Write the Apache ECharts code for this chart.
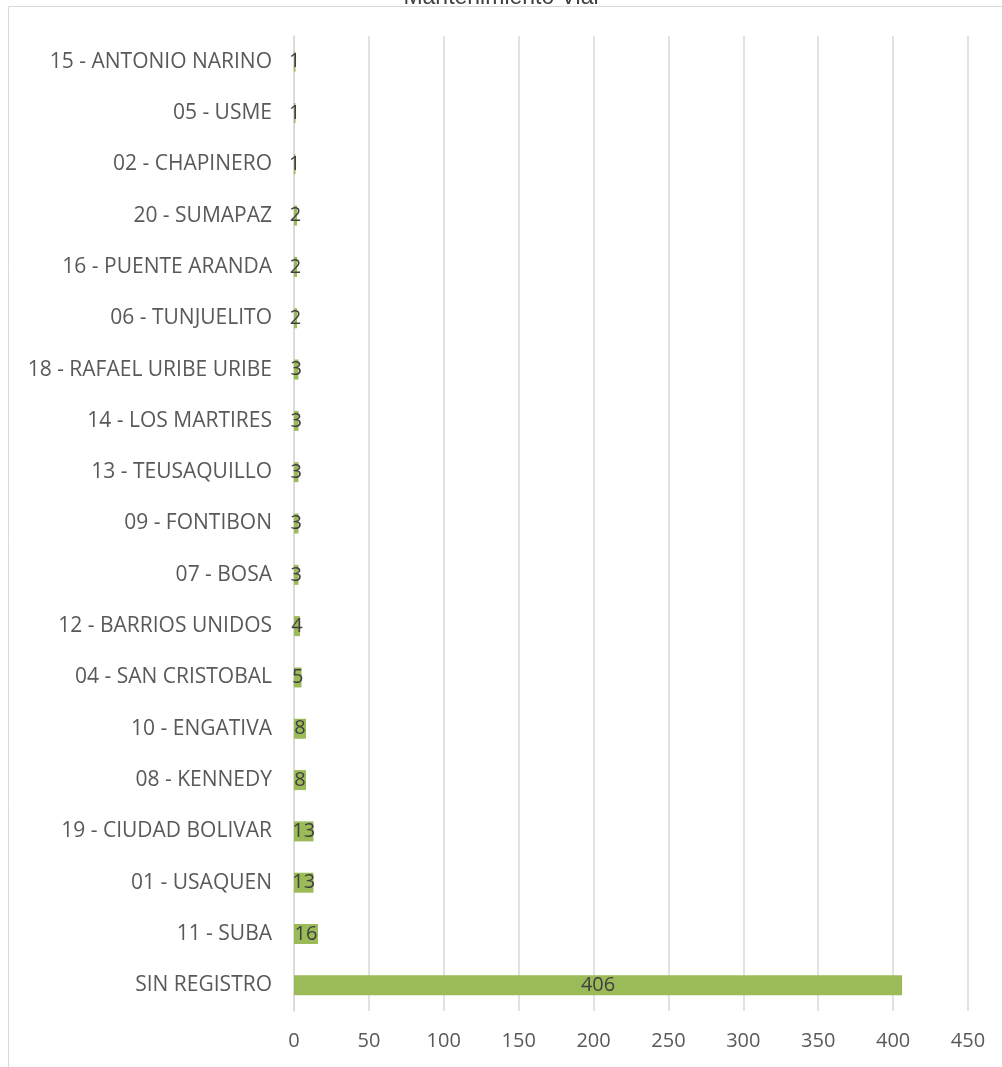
<!DOCTYPE html>
<html><head><meta charset="utf-8">
<script src="https://cdn.jsdelivr.net/npm/echarts@6/dist/echarts.min.js"></script>
<style>html,body{margin:0;padding:0;background:#fff}#c{width:1002px;height:1067px}</style>
</head><body><div id="c"></div>
<script>
const categories = ["SIN REGISTRO","11 - SUBA","01 - USAQUEN","19 - CIUDAD BOLIVAR","08 - KENNEDY","10 - ENGATIVA","04 - SAN CRISTOBAL","12 - BARRIOS UNIDOS","07 - BOSA","09 - FONTIBON","13 - TEUSAQUILLO","14 - LOS MARTIRES","18 - RAFAEL URIBE URIBE","06 - TUNJUELITO","16 - PUENTE ARANDA","20 - SUMAPAZ","02 - CHAPINERO","05 - USME","15 - ANTONIO NARINO"];
const values = [406,16,13,13,8,8,5,4,3,3,3,3,3,2,2,2,1,1,1];
const chartTitle = "Mantenimiento Vial";
const chart = echarts.init(document.getElementById('c'));
const font = "'Open Sans', 'Noto Sans', sans-serif";
chart.setOption({
  backgroundColor:'#fff',
  animation:false,
  title:{text:chartTitle,left:'center',top:-19,textStyle:{fontFamily:"'Liberation Sans', Arial, sans-serif",fontSize:23,fontWeight:'normal',color:'#404040'}},
  graphic:[{type:'rect',shape:{x:8.5,y:6.5,width:1100,height:1200},style:{fill:null,stroke:'#d9d9d9',lineWidth:1},z:-1}],
  grid:{left:294,right:34,top:36,bottom:56,containLabel:false},
  xAxis:{type:'value',min:0,max:450,interval:50,
    axisLine:{show:false},axisTick:{show:false},
    splitLine:{show:true,lineStyle:{color:'#d9d9d9',width:1.5}},
    axisLabel:{color:'#595959',fontFamily:font,fontSize:20,margin:20}},
  yAxis:{type:'category',data:categories,
    axisLine:{show:true,lineStyle:{color:'#d9d9d9',width:1.5}},axisTick:{show:false},
    axisLabel:{color:'#595959',fontFamily:font,fontSize:21,margin:22}},
  series:[{type:'bar',data:values,barWidth:20,
    itemStyle:{color:'#9bbb59'},
    label:{show:true,position:'inside',color:'#404040',fontFamily:font,fontSize:20}}]
});
</script></body></html>
